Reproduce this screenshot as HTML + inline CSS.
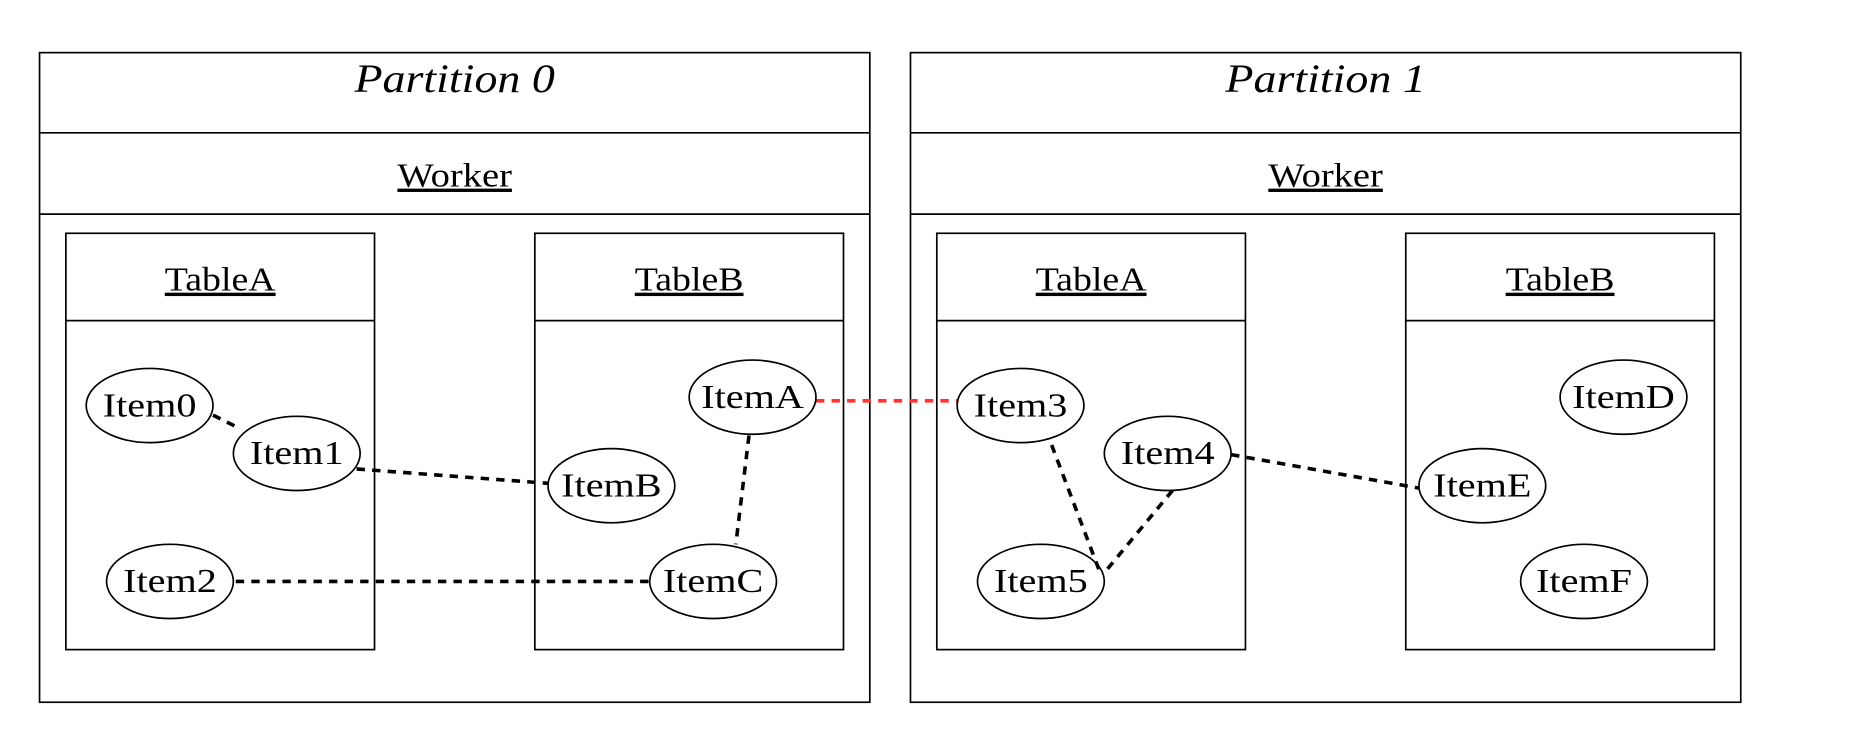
<!DOCTYPE html>
<html><head><meta charset="utf-8"><style>
html,body{margin:0;padding:0;background:#fff;}
svg{display:block;}
text{font-family:"Liberation Serif",serif;fill:#000;}
</style></head><body>
<svg id="chart" width="1876" height="744" viewBox="0 0 1568 621.9" xmlns="http://www.w3.org/2000/svg">
<g id="boxes"></g><g id="edges"></g><g id="nodes"></g>
</svg>
<script>
const partitionNames = ["Partition 0", "Partition 1"];
const partitionX = [33, 761];
const tableNames = ["TableA", "TableB"];
const tableOffsets = [22, 414];
const nodeLabels = ["Item0","Item1","Item2","ItemA","ItemB","ItemC","Item3","Item4","Item5","ItemD","ItemE","ItemF"];
const nodeX = [125,248,142,629,511,596,853,976,870,1357,1239,1324];
const nodeY = [339,379,486,332,406,486,339,379,486,332,406,486];
const edgeFrom = ["Item0","Item1","Item2","ItemA","ItemA","Item3","Item4","Item4"];
const edgeTo   = ["Item1","ItemB","ItemC","ItemC","Item3","Item5","Item5","ItemE"];
const edgeRed  = [false,false,false,false,true,false,false,false];
// port offsets relative to node centers (layout, not data)
const portFrom = [[53,8],[50,13],[55,0],[-3,32],[53,3],[26,33],[4,31],[53,1]];
const portTo   = [[-50,-22],[-53,-2],[-54,0],[19,-31],[-52,-4],[50,-6],[52,-6],[-53,2]];

const NS="http://www.w3.org/2000/svg";
function mk(tag, attrs, parent){const e=document.createElementNS(NS,tag);for(const k in attrs)e.setAttribute(k,attrs[k]);parent.appendChild(e);return e;}
function stretch(t,f){const w=t.getComputedTextLength();t.setAttribute('textLength',w*f);t.setAttribute('lengthAdjust','spacingAndGlyphs');}
const boxes=document.getElementById('boxes'), edges=document.getElementById('edges'), nodes=document.getElementById('nodes');
const RX=53, RY=31;

partitionNames.forEach((p,i)=>{
  const x=partitionX[i], w=694;
  const r=mk('rect',{x:x,y:44,width:w,height:543,fill:'none',stroke:'#000','stroke-width':1.4},boxes);
  
  
  mk('line',{x1:x,y1:111,x2:x+w,y2:111,stroke:'#000','stroke-width':1.4},boxes);
  mk('line',{x1:x,y1:179,x2:x+w,y2:179,stroke:'#000','stroke-width':1.4},boxes);
  const t=mk('text',{x:x+w/2,y:77,'text-anchor':'middle','font-size':34,'font-style':'italic'},boxes);
  t.textContent=p;
  
  
  stretch(t,1.13);
  const wk=mk('text',{x:x+w/2,y:156,'text-anchor':'middle','font-size':28,'text-decoration':'underline'},boxes);
  wk.textContent='Worker';
  
  
  stretch(wk,1.15);
  tableNames.forEach((tn,j)=>{
    const tx=x+tableOffsets[j];
    const tr=mk('rect',{x:tx,y:195,width:258,height:348,fill:'none',stroke:'#000','stroke-width':1.4},boxes);
    
    
    mk('line',{x1:tx,y1:268,x2:tx+258,y2:268,stroke:'#000','stroke-width':1.4},boxes);
    const tt=mk('text',{x:tx+129,y:243,'text-anchor':'middle','font-size':28,'text-decoration':'underline'},boxes);
    tt.textContent=tn;
    
    
    stretch(tt,1.13);
  });
});

edgeFrom.forEach((f,i)=>{
  const ia=nodeLabels.indexOf(f), ib=nodeLabels.indexOf(edgeTo[i]);
  const l=mk('line',{x1:nodeX[ia]+portFrom[i][0],y1:nodeY[ia]+portFrom[i][1],x2:nodeX[ib]+portTo[i][0],y2:nodeY[ib]+portTo[i][1],stroke:edgeRed[i]?'#ff3333':'#000','stroke-width':3,'stroke-dasharray':'7,6'},edges);
  
  
});

nodeLabels.forEach((n,i)=>{
  const g=mk('g',{},nodes);
  
  
  mk('ellipse',{cx:nodeX[i],cy:nodeY[i],rx:RX,ry:RY,fill:'none',stroke:'#000','stroke-width':1.4},g);
  const t=mk('text',{x:nodeX[i],y:nodeY[i]+9,'text-anchor':'middle','font-size':28},g);
  t.textContent=n;
  stretch(t,1.2);
});
</script>
</body></html>
